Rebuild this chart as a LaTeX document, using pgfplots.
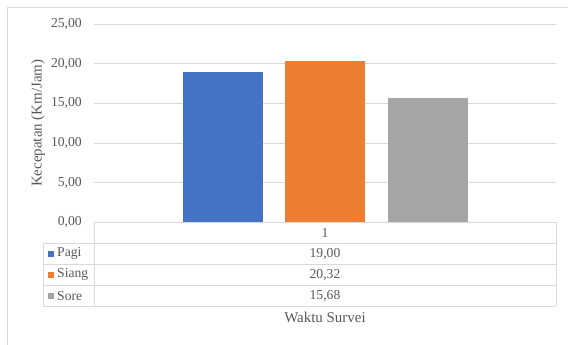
\documentclass[border=0pt]{standalone}
\usepackage{pgfplots}
\pgfplotsset{compat=1.18}
\usepackage{fontspec}
\setmainfont{Liberation Serif}

\definecolor{pagi}{HTML}{4472C4}
\definecolor{siang}{HTML}{ED7D31}
\definecolor{sore}{HTML}{A5A5A5}
\definecolor{gridc}{HTML}{D9D9D9}
\definecolor{txt}{HTML}{595959}

\begin{document}
\begin{tikzpicture}
\path[use as bounding box] (0bp,0bp) rectangle (568bp,345bp);
% chart frame
\draw[gridc, line width=0.9bp] (7bp,0bp) -- (7bp,338bp) -- (568bp,338bp);

\begin{axis}[
  at={(94bp,122.5bp)}, anchor=south west,
  scale only axis, width=462bp, height=198.5bp,
  ymin=0, ymax=25, ytick={0,5,...,25},
  xmin=0.5, xmax=1.5, xtick=\empty,
  ybar=22.5bp, bar width=80bp,
  axis line style={draw=none},
  ymajorgrids, grid style={gridc, line width=0.9bp},
  major tick length=0pt,
  ylabel={Kecepatan (Km/Jam)},
  ylabel style={at={(axis description cs:-0.121,0.5)}, anchor=center,
    font=\fontsize{15}{15}\selectfont, color=txt},
  yticklabel style={font=\fontsize{13.7}{13.7}\selectfont, color=txt,
    anchor=east, inner sep=0pt, xshift=-12bp,
    /pgf/number format/.cd, fixed, fixed zerofill, precision=2,
    use comma, assume math mode=true},
  clip=false,
]
\addplot[fill=pagi, draw=none] coordinates {(1,19.00)};
\addplot[fill=siang, draw=none] coordinates {(1,20.32)};
\addplot[fill=sore, draw=none] coordinates {(1,15.68)};
\end{axis}

% data table below the plot area
\begin{scope}[x=1bp, y=1bp, gridc, line width=0.9bp]
  \draw (94,122.5) -- (556,122.5);
  \foreach \yy in {101.6,80.7,59.8,38.9} \draw (43,\yy) -- (556,\yy);
  \draw (43,38.9) -- (43,101.6);
  \draw (94,38.9) -- (94,122.5);
  \draw (556,38.9) -- (556,122.5);
\end{scope}
\begin{scope}[x=1bp, y=1bp, every node/.style={text=txt, font=\fontsize{13.7}{13.7}\selectfont, inner sep=0pt}]
  \node at (325,112.05) {1};
  \node at (325,91.15) {19,00};
  \node at (325,70.25) {20,32};
  \node at (325,49.35) {15,68};
  \fill[pagi]  (48,88.15) rectangle (54,94.15);
  \fill[siang] (48,67.25) rectangle (54,73.25);
  \fill[sore]  (48,46.35) rectangle (54,52.35);
  \node[anchor=west] at (57,91.15) {Pagi};
  \node[anchor=west] at (57,70.25) {Siang};
  \node[anchor=west] at (57,49.35) {Sore};
  \node[font=\fontsize{15}{15}\selectfont] at (325,28) {Waktu Survei};
\end{scope}
\end{tikzpicture}
\end{document}
